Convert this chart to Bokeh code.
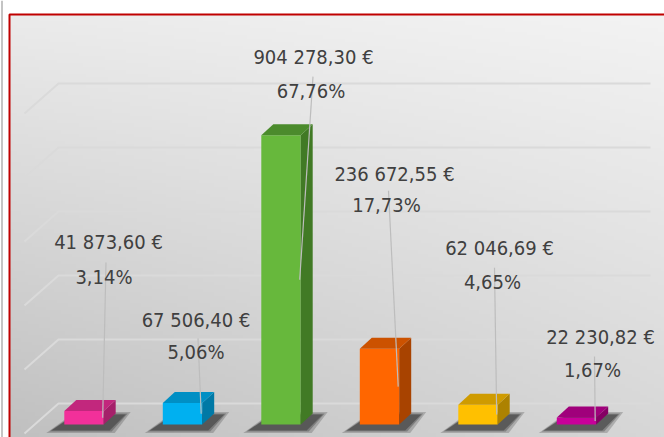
import numpy as np
from bokeh.plotting import figure
from bokeh.models import Range1d
from bokeh.core.properties import value
from bokeh.embed import file_html
from bokeh.resources import INLINE

# ---------------- data ----------------
categories = ["Poste 1", "Poste 2", "Poste 3", "Poste 4", "Poste 5", "Poste 6"]
amounts = [41873.60, 67506.40, 904278.30, 236672.55, 62046.69, 22230.82]
percents = [3.14, 5.06, 67.76, 17.73, 4.65, 1.67]
grid_ticks = [0, 200000, 400000, 600000, 800000, 1000000]

# ---------------- styles ----------------
front_colors = ["#f2309a", "#00b0f0", "#67b83c", "#ff6600", "#ffc000", "#c8009a"]
top_colors = ["#c2277d", "#008fc4", "#4b8b2c", "#cc5200", "#cf9b00", "#a0007b"]
side_colors = ["#a5206a", "#0079a6", "#417a25", "#a84300", "#ad8200", "#850064"]

# label placement (screen px, relative to the top centre of the bar front face)
lab1_dx = [24.5, 13.5, 32.5, 15.0, 21.5, 24.0]
lab1_dy = [-169.0, -82.5, -78.5, -175.0, -157.0, -80.0]
lab2_dx = [20.0, 13.5, 30.0, 7.0, 14.5, 16.0]
lab2_dy = [-134.5, -50.5, -44.5, -144.0, -123.0, -47.0]

# ---------------- geometry (page pixels) ----------------
W, H = 664, 437
PX_PER_CAT = 98.5
VAL_PER_PX = 200000 / 64.0
FIRST_BAR_X = 83.5        # page x of first bar centre
BASE_Y = 424              # page y of bar base (front)
CHART_X, CHART_Y = 9, 14  # page position of chart border
BAR_W = 0.4
DEPTH_DX, DEPTH_DY = 12, 11
BACK_DY = 21
GRID_X0, GRID_X1 = 58, 650
DIAG_DX, DIAG_DY = 34, 30

def X(px):   # page x -> data x
    return (px - FIRST_BAR_X) / PX_PER_CAT

def Y(py):   # page y -> data y
    return (BASE_Y - py) * VAL_PER_PX

def dx(px):
    return px / PX_PER_CAT

def dy(px):
    return px * VAL_PER_PX

x_start, x_end = X(0), X(W)
y_start, y_end = Y(H), Y(0)

p = figure(width=W, height=H, x_range=Range1d(x_start, x_end), y_range=Range1d(y_start, y_end),
           output_backend="svg", toolbar_location=None, x_axis_location=None, y_axis_location=None,
           min_border=0)
p.grid.visible = False
p.outline_line_color = None
p.border_fill_color = "white"
p.background_fill_color = "white"

# background gradient (light top-right -> darker bottom-left)
N, M = 120, 180
u = np.linspace(0, 1, M)[None, :]
w = 1 - np.linspace(0, 1, N)[:, None]
g = 243 - 8 * (1 - u) - 28 * w - 15 * (1 - u) * w
g = np.clip(g, 0, 255).astype(np.uint8)
img = np.empty((N, M), dtype=np.uint32)
view = img.view(dtype=np.uint8).reshape((N, M, 4))
view[:, :, 0] = g
view[:, :, 1] = g
view[:, :, 2] = g
view[:, :, 3] = 255
p.image_rgba(image=[img], x=X(CHART_X), y=y_start, dw=x_end - X(CHART_X), dh=Y(CHART_Y) - y_start)

# back-wall gridlines with perspective side lines
g_xs, g_ys = [], []
for tk in grid_ticks:
    yy = tk + dy(BACK_DY)
    g_xs.append([X(GRID_X0 - DIAG_DX), X(GRID_X0), X(GRID_X1)])
    g_ys.append([yy - dy(DIAG_DY), yy, yy])
p.multi_line(xs=g_xs, ys=g_ys, line_color="#dadada", line_width=2)

idx = list(range(len(amounts)))
ddx, ddy = dx(DEPTH_DX), dy(DEPTH_DY)

# shadows
for grow, alpha in [(5, 0.25), (2, 0.35), (0, 0.5)]:
    s_xs, s_ys = [], []
    for i in idx:
        l, r = i - BAR_W / 2, i + BAR_W / 2
        s_xs.append([l - dx(13 + grow), r + dx(6 + grow), r + ddx + dx(10 + grow), l + ddx - dx(1)])
        s_ys.append([-dy(6 + grow / 2), -dy(6 + grow / 2), dy(10 + grow / 2), dy(10 + grow / 2)])
    p.patches(xs=s_xs, ys=s_ys, fill_color="#333333", fill_alpha=alpha, line_color=None)

# bars: front, side, top
p.quad(left=[i - BAR_W / 2 for i in idx], right=[i + BAR_W / 2 for i in idx],
       bottom=0, top=amounts, fill_color=front_colors, line_color=None)
side_xs, side_ys, top_xs, top_ys = [], [], [], []
for i, v in zip(idx, amounts):
    l, r = i - BAR_W / 2, i + BAR_W / 2
    side_xs.append([r, r + ddx, r + ddx, r])
    side_ys.append([0, ddy, v + ddy, v])
    top_xs.append([l, r, r + ddx, l + ddx])
    top_ys.append([v, v, v + ddy, v + ddy])
p.patches(xs=side_xs, ys=side_ys, fill_color=side_colors, line_color=None)
p.patches(xs=top_xs, ys=top_ys, fill_color=top_colors, line_color=None)

# leader lines
x0s = [i + dx(lab2_dx[i] + 2) for i in idx]
y0s = [amounts[i] - dy(lab2_dy[i] - 14) for i in idx]
x1s = [i + BAR_W / 2 - dx(1) for i in idx]
y1s = [v / 2 for v in amounts]
p.segment(x0=x0s, y0=y0s, x1=x1s, y1=y1s, line_color="#bdbdbd", line_width=1.2)

# data labels
amount_labels = [f"{a:,.2f}".replace(",", " ").replace(".", ",") + " €" for a in amounts]
percent_labels = [f"{q:.2f}%".replace(".", ",") for q in percents]
common = dict(text_font=value("DejaVu Sans Condensed, Roboto"), text_font_size="20px",
              text_color="#404040", text_align="center", text_baseline="middle")
p.text(x=[i + dx(lab1_dx[i]) for i in idx], y=[amounts[i] - dy(lab1_dy[i]) for i in idx],
       text=amount_labels, **common)
p.text(x=[i + dx(lab2_dx[i]) for i in idx], y=[amounts[i] - dy(lab2_dy[i]) for i in idx],
       text=percent_labels, **common)

# window edge line and chart border (top and left visible)
p.line(x=[X(1.5), X(1.5)], y=[y_start, y_end], line_color="#c4c4c4", line_width=2)
p.line(x=[X(CHART_X), X(CHART_X), x_end], y=[y_start, Y(CHART_Y), Y(CHART_Y)],
       line_color="#c00000", line_width=2)

open("out.html", "w").write(file_html(p, INLINE))
